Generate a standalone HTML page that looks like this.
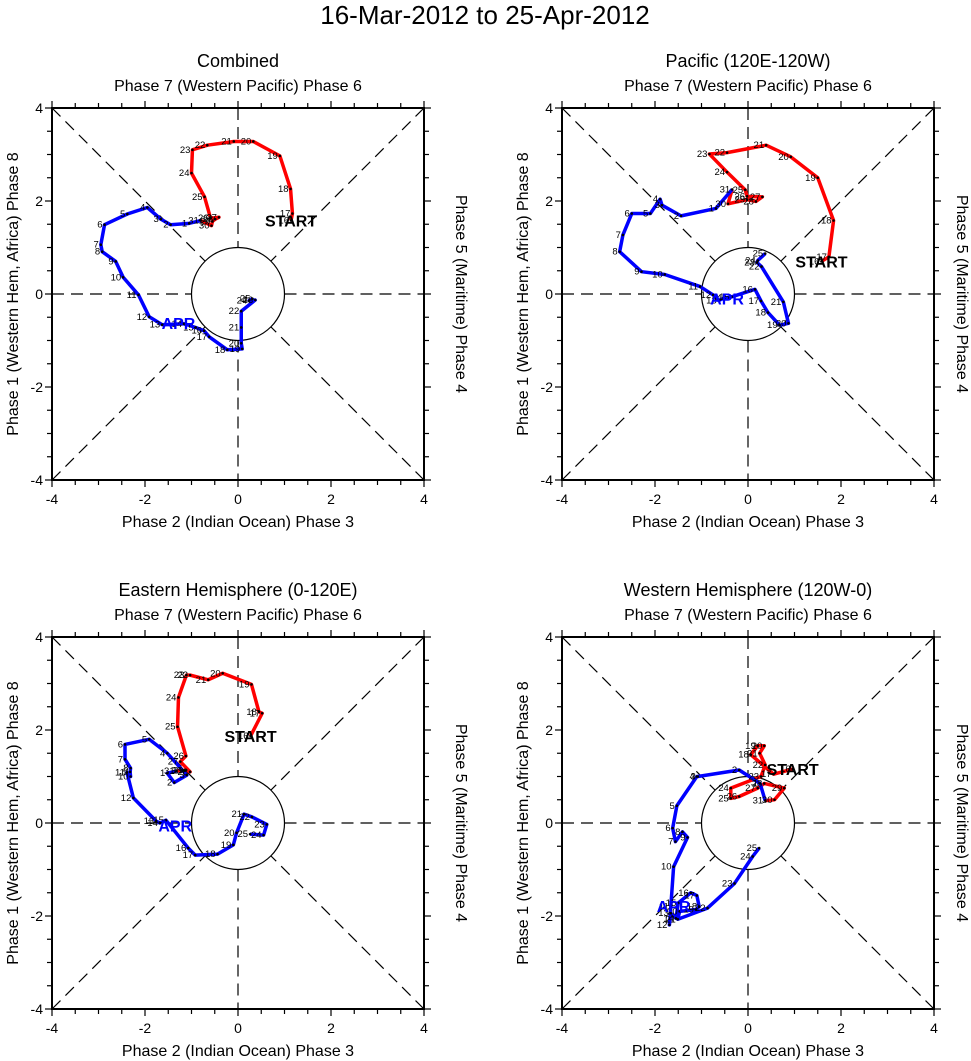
<!DOCTYPE html>
<html><head><meta charset="utf-8"><style>
body{margin:0;background:#fff;}
svg{display:block;font-family:"Liberation Sans",sans-serif;}
</style></head><body>
<svg id="chart" width="971" height="1061" viewBox="0 0 971 1061" xmlns="http://www.w3.org/2000/svg">
<text x="485" y="24" font-size="26" text-anchor="middle">16-Mar-2012 to 25-Apr-2012</text>
</svg>
<script>
// Combined
const p1RedX=[1.14,1.17,1.13,0.90,0.33,-0.09,-0.66,-0.98,-1.0,-0.72,-0.59,-0.41,-0.49,-0.55,-0.57,-0.80];
const p1RedY=[1.58,1.73,2.26,2.97,3.28,3.28,3.20,3.10,2.60,2.09,1.63,1.65,1.61,1.56,1.47,1.58];
const p1BlueX=[-1.05,-1.45,-1.66,-1.95,-2.38,-2.87,-2.95,-2.92,-2.63,-2.47,-2.14,-1.91,-1.63,-1.16,-0.91,-0.73,-0.62,-0.23,0.09,0.07,0.07,0.07,0.37,0.24,0.31];
const p1BlueY=[1.52,1.49,1.61,1.86,1.72,1.49,1.06,0.91,0.70,0.36,-0.02,-0.49,-0.66,-0.64,-0.72,-0.79,-0.92,-1.20,-1.18,-1.06,-0.72,-0.37,-0.13,-0.14,-0.10];
// Pacific
const p2RedX=[1.58,1.74,1.84,1.50,0.92,0.39,-0.45,-0.83,-0.45,-0.06,-0.02,0.31,0.17,-0.02,-0.43,-0.34];
const p2RedY=[0.70,0.80,1.58,2.50,2.95,3.20,3.04,3.01,2.62,2.24,2.10,2.09,1.99,2.03,1.94,2.25];
const p2BlueX=[-0.69,-1.44,-1.85,-1.89,-2.10,-2.50,-2.69,-2.76,-2.29,-1.79,-1.03,-0.75,-0.63,-0.52,-0.35,0.15,0.28,0.43,0.68,0.87,0.76,0.29,0.19,0.21,0.37];
const p2BlueY=[1.84,1.68,1.91,2.04,1.73,1.73,1.27,0.91,0.48,0.42,0.16,-0.02,-0.14,-0.09,-0.06,0.10,-0.15,-0.40,-0.67,-0.63,-0.17,0.59,0.68,0.72,0.87];
// Eastern Hemisphere
const p3RedX=[0.27,0.52,0.45,0.29,-0.33,-0.64,-1.03,-1.11,-1.28,-1.30,-1.12,-1.24,-1.03,-1.13,-1.17,-1.32];
const p3RedY=[1.87,2.36,2.39,2.98,3.22,3.08,3.18,3.18,2.70,2.07,1.44,1.32,1.10,1.13,1.13,1.12];
const p3BlueX=[-1.52,-1.37,-1.10,-1.52,-1.91,-2.43,-2.43,-2.31,-2.32,-2.31,-2.39,-2.25,-1.76,-1.68,-1.55,-1.07,-0.92,-0.44,-0.10,-0.03,0.13,0.30,0.62,0.55,0.26];
const p3BlueY=[1.07,0.87,1.03,1.50,1.80,1.69,1.37,1.18,1.10,1.00,1.09,0.54,0.04,0.00,0.06,-0.54,-0.69,-0.67,-0.47,-0.21,0.19,0.13,-0.03,-0.26,-0.24];
// Western Hemisphere
const p4RedX=[0.96,0.55,0.06,0.21,0.35,0.25,0.37,0.28,-0.37,-0.37,-0.19,0.21,0.35,0.78,0.57,0.37];
const p4RedY=[1.16,1.05,1.47,1.66,1.66,1.50,1.25,1.00,0.75,0.53,0.57,0.75,0.85,0.75,0.50,0.48];
const p4BlueX=[0.26,-0.19,-1.08,-1.10,-1.53,-1.62,-1.56,-1.41,-1.30,-1.60,-1.66,-1.69,-1.66,-1.55,-1.50,-1.23,-1.10,-1.05,-1.12,-1.47,-1.51,-0.87,-0.29,0.10,0.24];
const p4BlueY=[0.85,1.14,1.00,1.00,0.37,-0.11,-0.40,-0.19,-0.31,-0.94,-1.80,-2.19,-1.94,-2.05,-1.72,-1.50,-1.56,-1.80,-1.86,-1.90,-2.07,-1.83,-1.30,-0.72,-0.54];
const redDays=[16,17,18,19,20,21,22,23,24,25,26,27,28,29,30,31];
const blueDays=[1,2,3,4,5,6,7,8,9,10,11,12,13,14,15,16,17,18,19,20,21,22,23,24,25];
const panelTitles=["Combined","Pacific (120E-120W)","Eastern Hemisphere (0-120E)","Western Hemisphere (120W-0)"];
const tickVals=[-4,-2,0,2,4];

const NS="http://www.w3.org/2000/svg";
const svg=document.getElementById('chart');
function mk(tag,attrs,parent){const e=document.createElementNS(NS,tag);for(const k in attrs)e.setAttribute(k,attrs[k]);(parent||svg).appendChild(e);return e;}
const panels=[
 {ox:52,oy:108,rx:p1RedX,ry:p1RedY,bx:p1BlueX,by:p1BlueY,rl:456,ax:-1.28,ay:-0.62},
 {ox:562,oy:108,rx:p2RedX,ry:p2RedY,bx:p2BlueX,by:p2BlueY,rl:957,ax:-0.45,ay:-0.1},
 {ox:52,oy:637,rx:p3RedX,ry:p3RedY,bx:p3BlueX,by:p3BlueY,rl:456,ax:-1.35,ay:-0.05},
 {ox:562,oy:637,rx:p4RedX,ry:p4RedY,bx:p4BlueX,by:p4BlueY,rl:957,ax:-1.6,ay:-1.78}];
const S=372,U=S/8;
panels.forEach((p,i)=>{
 const g=mk('g',{});
 
 
 const X=v=>p.ox+(v+4)*U, Y=v=>p.oy+(4-v)*U;
 const cx=X(0),cy=Y(0);
 let t=mk('text',{x:cx,y:p.oy-41,'font-size':18,'text-anchor':'middle'},g);t.textContent=panelTitles[i];
 
 t=mk('text',{x:cx,y:p.oy-17,'font-size':16,'text-anchor':'middle'},g);t.textContent="Phase 7 (Western Pacific) Phase 6";
 
 t=mk('text',{x:cx,y:p.oy+S+47,'font-size':16,'text-anchor':'middle'},g);t.textContent="Phase 2 (Indian Ocean) Phase 3";
 
 t=mk('text',{x:0,y:0,'font-size':16,'text-anchor':'middle',transform:`translate(${p.ox-34},${cy}) rotate(-90)`},g);t.textContent="Phase 1 (Western Hem, Africa) Phase 8";
 
 t=mk('text',{x:0,y:0,'font-size':16,'text-anchor':'middle',transform:`translate(${p.rl},${cy}) rotate(90)`},g);t.textContent="Phase 5 (Maritime) Phase 4";
 
 const r=U, d=r/Math.SQRT2;
 const dl=[[p.ox,cy,cx-r,cy],[cx+r,cy,p.ox+S,cy],[cx,p.oy,cx,cy-r],[cx,cy+r,cx,p.oy+S],
  [p.ox,p.oy,cx-d,cy-d],[p.ox+S,p.oy,cx+d,cy-d],[p.ox,p.oy+S,cx-d,cy+d],[p.ox+S,p.oy+S,cx+d,cy+d]];
 dl.forEach(l=>{const e=mk('line',{x1:l[0],y1:l[1],x2:l[2],y2:l[3],stroke:'#000','stroke-width':1.2,'stroke-dasharray':'12 7'},g);
  });
 const c=mk('circle',{cx:cx,cy:cy,r:r,fill:'none',stroke:'#000','stroke-width':1.2},g);
 
 const b=mk('rect',{x:p.ox,y:p.oy,width:S,height:S,fill:'none',stroke:'#000','stroke-width':2},g);
 
 for(let v=-4;v<=4.001;v+=0.5){
  const maj=Math.abs(v%2)<1e-6, L=maj?7:5;
  mk('line',{x1:X(v),y1:p.oy+S,x2:X(v),y2:p.oy+S+L,stroke:'#000','stroke-width':1.2},g);
  mk('line',{x1:X(v),y1:p.oy,x2:X(v),y2:p.oy-L,stroke:'#000','stroke-width':1.2},g);
  mk('line',{x1:p.ox,y1:Y(v),x2:p.ox-L,y2:Y(v),stroke:'#000','stroke-width':1.2},g);
  mk('line',{x1:p.ox+S,y1:Y(v),x2:p.ox+S+L,y2:Y(v),stroke:'#000','stroke-width':1.2},g);
 }
 tickVals.forEach(v=>{
  let e=mk('text',{x:X(v),y:p.oy+S+24,'font-size':14,'text-anchor':'middle'},g);e.textContent=v;
  
  e=mk('text',{x:p.ox-9,y:Y(v)+5,'font-size':14,'text-anchor':'end'},g);e.textContent=v;
  
 });
 const rp=p.rx.map((v,k)=>X(v)+','+Y(p.ry[k])).join(' ');
 const last=p.rx.length-1;
 const bp=[X(p.rx[last])+','+Y(p.ry[last])].concat(p.bx.map((v,k)=>X(v)+','+Y(p.by[k]))).join(' ');
 let pl=mk('polyline',{points:rp,fill:'none',stroke:'#ff0000','stroke-width':3.5,'stroke-linejoin':'round'},g);
 
 pl=mk('polyline',{points:bp,fill:'none',stroke:'#0000ff','stroke-width':3.5,'stroke-linejoin':'round'},g);
 
 const pts=p.rx.map((v,k)=>[X(v),Y(p.ry[k]),redDays[k]]).concat(p.bx.map((v,k)=>[X(v),Y(p.by[k]),blueDays[k]]));
 pts.forEach(q=>{
  const dot=mk('circle',{cx:q[0],cy:q[1],r:1.3,fill:'#000'},g);
  
  const tl=mk('text',{x:q[0]-2,y:q[1]+3,'font-size':9.5,'text-anchor':'end'},g);tl.textContent=q[2];
  
 });
 let st=mk('text',{x:X(p.rx[0]),y:Y(p.ry[0])+6,'font-size':16,'font-weight':'bold','text-anchor':'middle'},g);st.textContent="START";
 
 let ap=mk('text',{x:X(p.ax),y:Y(p.ay)+6,'font-size':16,'font-weight':'bold',fill:'#0000ff','text-anchor':'middle'},g);ap.textContent="APR";
 
});
</script>
</body></html>
